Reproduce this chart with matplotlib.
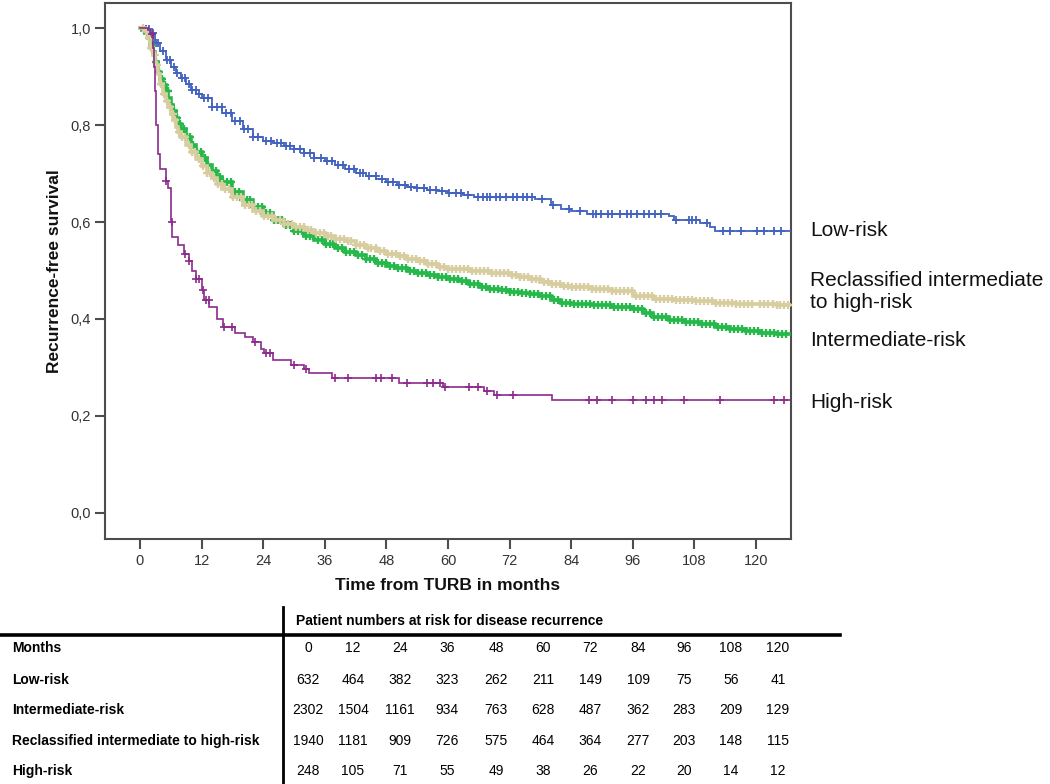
import numpy as np
import matplotlib
matplotlib.use("Agg")
import matplotlib.pyplot as plt
from matplotlib.lines import Line2D

# ---------------- data ----------------
low_t = [0, 1, 2, 3, 4, 5, 6, 7, 8, 9, 10, 11, 12, 14, 16, 18, 20, 22, 24, 26, 28, 30, 32, 34, 36, 38,
         40, 42, 44, 46, 48, 50, 52, 54, 56, 58, 60, 63, 65, 77, 80, 82, 84, 87, 103, 104, 109, 111, 112]
low_s = [1.0, 0.998, 0.99, 0.97, 0.952, 0.935, 0.92, 0.908, 0.897, 0.885, 0.873, 0.864, 0.855, 0.838,
         0.825, 0.808, 0.792, 0.776, 0.768, 0.764, 0.756, 0.75, 0.742, 0.733, 0.726, 0.718, 0.71, 0.702,
         0.695, 0.688, 0.682, 0.677, 0.673, 0.67, 0.667, 0.664, 0.66, 0.656, 0.651, 0.648, 0.636, 0.626,
         0.622, 0.617, 0.613, 0.605, 0.598, 0.59, 0.582]
low_cens = [1.2, 1.8, 2.5, 3.1, 3.6, 4.4, 5.2, 5.9, 6.6, 7.3, 8.1, 8.8, 9.5, 10.2, 10.9, 11.6, 12.4, 13.2,
            14.1, 15.0, 15.9, 16.8, 17.7, 18.5, 19.4, 20.2, 21.1, 22.0, 23.0, 24.5, 25.6, 26.7, 27.5, 28.4,
            29.3, 30.1, 31.2, 32.0, 33.1, 34.0, 35.2, 36.5, 37.4, 38.6, 39.5, 40.7, 41.6, 42.8, 43.5, 44.7,
            45.9, 47.1, 48.3, 49.2, 50.4, 51.6, 52.8, 54.0, 55.3, 56.5, 57.7, 58.9, 60.1, 61.5, 62.6, 63.8,
            65.9, 66.8, 67.5, 68.2, 69.4, 70.1, 71.3, 72.6, 73.5, 74.7, 75.4, 76.3, 78.4, 80.5, 83.5, 85.8,
            88.2, 88.9, 89.7, 91.2, 92.0, 93.5, 94.8, 95.6, 96.9, 98.2, 99.1, 100.3, 101.4, 104.5, 106.9,
            107.6, 108.3, 110.5, 113.5, 115.0, 117.0, 120.2, 121.5, 123.5, 124.8]

int_t = [0, 0.5, 1, 1.5, 2, 2.5, 3, 3.5, 4, 4.5, 5, 5.5, 6, 6.5, 7, 7.5, 8, 9, 10, 11, 12, 13, 14, 15, 16,
         18, 20, 22, 24, 26, 28, 30, 32, 34, 36, 38, 40, 42, 44, 46, 48, 50, 52, 54, 56, 58, 60, 62, 64,
         66, 68, 70, 72, 74, 76, 78, 80, 82, 84, 88, 92, 96, 98, 100, 103, 106, 109, 112, 115, 118, 121, 124]
int_s = [1.0, 0.997, 0.99, 0.98, 0.965, 0.95, 0.93, 0.91, 0.895, 0.882, 0.87, 0.855, 0.842, 0.83, 0.815,
         0.803, 0.792, 0.775, 0.76, 0.745, 0.733, 0.718, 0.705, 0.693, 0.682, 0.663, 0.646, 0.632, 0.618,
         0.605, 0.593, 0.582, 0.572, 0.563, 0.555, 0.547, 0.539, 0.531, 0.523, 0.516, 0.51, 0.505, 0.5,
         0.495, 0.491, 0.487, 0.483, 0.479, 0.472, 0.466, 0.462, 0.459, 0.456, 0.454, 0.451, 0.447, 0.44,
         0.434, 0.431, 0.428, 0.425, 0.421, 0.413, 0.405, 0.398, 0.394, 0.39, 0.384, 0.379, 0.375, 0.372, 0.37]
int_cens = [0.8, 1.3, 1.9, 2.4, 3.2, 3.8, 4.3, 4.9, 5.4, 6.1, 6.7, 7.2, 7.9, 8.5, 9.1, 9.8, 10.4, 11.2,
            11.9, 12.6, 13.3, 14.0, 14.8, 15.5, 16.2, 17.0, 17.7, 18.5, 19.2, 20.0, 20.8, 21.5, 22.3, 23.0,
            23.8, 24.6, 25.3, 26.1, 26.9, 27.6, 28.4, 29.2, 30.0, 30.7, 31.5, 32.3, 33.1, 33.8, 34.6, 35.4,
            36.2, 37.0, 37.7, 38.5, 39.3, 40.1, 40.9, 41.6, 42.4, 43.2, 44.0, 44.8, 45.5, 46.3, 47.1, 47.9,
            48.7, 49.4, 50.2, 51.0, 51.8, 52.6, 53.3, 54.1, 54.9, 55.7, 56.5, 57.2, 58.0, 58.8, 59.6, 60.4,
            61.1, 61.9, 62.7, 63.5, 64.3, 65.0, 65.8, 66.6, 67.4, 68.2, 68.9, 69.7, 70.5, 71.3, 72.1, 72.8,
            73.6, 74.4, 75.2, 76.0, 76.7, 77.5, 78.3, 79.1, 79.9, 80.6, 81.4, 82.2, 83.0, 83.8, 84.5, 85.3,
            86.1, 86.9, 87.7, 88.4, 89.2, 90.0, 90.8, 91.6, 92.3, 93.1, 93.9, 94.7, 95.5, 96.2, 97.0, 97.8,
            98.6, 99.4, 100.1, 100.9, 101.7, 102.5, 103.3, 104.0, 104.8, 105.6, 106.4, 107.2, 107.9, 108.7,
            109.5, 110.3, 111.1, 111.8, 112.6, 113.4, 114.2, 115.0, 115.7, 116.5, 117.3, 118.1, 118.9,
            119.6, 120.4, 121.2, 122.0, 122.8, 123.5, 124.3, 125.1, 125.9]

rec_t = [0, 1, 1.5, 2, 2.5, 3, 3.5, 4, 4.5, 5, 5.5, 6, 6.5, 7, 7.5, 8, 9, 10, 11, 12, 13, 14, 15, 16, 18,
         20, 22, 24, 26, 28, 30, 32, 34, 36, 38, 40, 42, 44, 46, 48, 50, 52, 54, 56, 58, 60, 64, 68, 72,
         74, 76, 78, 80, 82, 84, 88, 92, 96, 100, 104, 108, 112, 116, 120, 124]
rec_s = [1.0, 0.995, 0.98, 0.96, 0.945, 0.925, 0.905, 0.885, 0.865, 0.85, 0.837, 0.822, 0.81, 0.797,
         0.786, 0.776, 0.76, 0.744, 0.73, 0.716, 0.702, 0.69, 0.679, 0.669, 0.651, 0.636, 0.623, 0.613,
         0.604, 0.597, 0.59, 0.583, 0.578, 0.572, 0.566, 0.56, 0.553, 0.546, 0.54, 0.534, 0.529, 0.524,
         0.519, 0.513, 0.508, 0.503, 0.498, 0.494, 0.49, 0.486, 0.482, 0.477, 0.472, 0.468, 0.466, 0.462,
         0.457, 0.448, 0.442, 0.44, 0.437, 0.434, 0.431, 0.43, 0.428]
rec_cens = [0.6, 1.1, 1.7, 2.2, 2.9, 3.4, 4.1, 4.6, 5.2, 5.8, 6.4, 6.9, 7.6, 8.2, 8.8, 9.5, 10.1, 10.8,
            11.5, 12.3, 13.0, 13.7, 14.4, 15.2, 15.9, 16.6, 17.4, 18.1, 18.9, 19.6, 20.4, 21.2, 21.9, 22.7,
            23.4, 24.2, 25.0, 25.7, 26.5, 27.3, 28.0, 28.8, 29.6, 30.4, 31.1, 31.9, 32.7, 33.4, 34.2, 35.0,
            35.8, 36.6, 37.3, 38.1, 38.9, 39.7, 40.5, 41.2, 42.0, 42.8, 43.6, 44.4, 45.1, 45.9, 46.7, 47.5,
            48.3, 49.0, 49.8, 50.6, 51.4, 52.2, 52.9, 53.7, 54.5, 55.3, 56.1, 56.8, 57.6, 58.4, 59.2, 60.0,
            60.8, 61.5, 62.3, 63.1, 63.9, 64.7, 65.4, 66.2, 67.0, 67.8, 68.6, 69.3, 70.1, 70.9, 71.7, 72.5,
            73.2, 74.0, 74.8, 75.6, 76.4, 77.1, 77.9, 78.7, 79.5, 80.3, 81.0, 81.8, 82.6, 83.4, 84.2, 84.9,
            85.7, 86.5, 87.3, 88.1, 88.8, 89.6, 90.4, 91.2, 92.0, 92.7, 93.5, 94.3, 95.1, 95.9, 96.6, 97.4,
            98.2, 99.0, 99.8, 100.5, 101.3, 102.1, 102.9, 103.7, 104.4, 105.2, 106.0, 106.8, 107.6, 108.3,
            109.1, 109.9, 110.7, 111.5, 112.2, 113.0, 113.8, 114.6, 115.4, 116.1, 116.9, 117.7, 118.5,
            119.3, 120.8, 121.6, 122.4, 123.2, 124.0, 124.7, 125.5, 126.3]

high_t = [0, 1.5, 2, 2.5, 2.8, 3.0, 3.2, 3.5, 4, 5, 5.5, 6, 6.3, 7.5, 8.5, 9.5, 10.2, 11, 12, 12.5, 13.5,
          15, 16.2, 18.5, 20.5, 22, 23.5, 24.2, 26, 29.5, 32, 33, 37.5, 50.5, 59, 67, 69, 80.2]
high_s = [1.0, 0.996, 0.988, 0.96, 0.92, 0.87, 0.8, 0.74, 0.71, 0.685, 0.67, 0.6, 0.57, 0.552, 0.535,
          0.52, 0.5, 0.482, 0.46, 0.44, 0.425, 0.4, 0.383, 0.372, 0.362, 0.352, 0.338, 0.33, 0.316, 0.306,
          0.296, 0.288, 0.278, 0.268, 0.26, 0.252, 0.243, 0.233]
high_cens = [2.3, 5.0, 6.2, 8.8, 9.5, 11.0, 11.6, 12.2, 12.8, 13.4, 16.3, 18.0, 22.5, 24.6, 25.4, 30.0,
             32.3, 38.0, 40.5, 46.0, 47.0, 49.0, 52.0, 56.0, 57.0, 58.5, 59.5, 64.0, 65.8, 67.5, 69.5,
             72.6, 87.5, 89.0, 92.0, 96.0, 98.5, 100.2, 101.6, 106.0, 113.0, 123.5, 125.5]

t_end = 126.8

groups = ["Low-risk", "Intermediate-risk", "Reclassified intermediate to high-risk", "High-risk"]
right_labels = ["Low-risk", "Reclassified intermediate\nto high-risk", "Intermediate-risk", "High-risk"]
risk_months = [0, 12, 24, 36, 48, 60, 72, 84, 96, 108, 120]
risk_low = [632, 464, 382, 323, 262, 211, 149, 109, 75, 56, 41]
risk_int = [2302, 1504, 1161, 934, 763, 628, 487, 362, 283, 209, 129]
risk_rec = [1940, 1181, 909, 726, 575, 464, 364, 277, 203, 148, 115]
risk_high = [248, 105, 71, 55, 49, 38, 26, 22, 20, 14, 12]

# ---------------- figure ----------------
W, H = 1050, 784
fig = plt.figure(figsize=(W / 100, H / 100), dpi=100)
SANS = ["Liberation Sans", "DejaVu Sans"]


def fx(px):
    return px / W


def fy(py):
    return 1 - py / H


ax = fig.add_axes([fx(105), fy(539), fx(791) - fx(105), fy(3) - fy(539)])
ax.set_xlim(-6.8, 126.8)
ax.set_ylim(-0.054, 1.052)


def km(ax, t, s, cens, color, lw, ms, mew, z):
    tt = list(t) + [t_end]
    ss = list(s) + [s[-1]]
    ax.step(tt, ss, where="post", color=color, lw=lw, zorder=z, solid_joinstyle="miter")
    c = np.array(cens)
    idx = np.searchsorted(np.array(t), c, side="right") - 1
    cy = np.array(s)[idx]
    ax.plot(c, cy, ls="none", marker="+", ms=ms, mew=mew, color=color, zorder=z)


km(ax, low_t, low_s, low_cens, "#4262c0", 1.3, 5.5, 1.3, 3)
km(ax, int_t, int_s, int_cens, "#27b84c", 2.6, 6, 1.7, 4)
km(ax, rec_t, rec_s, rec_cens, "#d8cd9f", 2.6, 6, 1.7, 5)
km(ax, high_t, high_s, high_cens, "#8c2b8c", 1.2, 5.5, 1.2, 6)

spine_c = "#4d4d4d"
for sp in ax.spines.values():
    sp.set_color(spine_c)
    sp.set_linewidth(1.5)

ax.set_xticks(risk_months)
ax.set_xticklabels([str(m) for m in risk_months])
ax.set_yticks([0, 0.2, 0.4, 0.6, 0.8, 1.0])
ax.set_yticklabels(["0,0", "0,2", "0,4", "0,6", "0,8", "1,0"])
ax.tick_params(axis="both", direction="out", length=7, width=1.5, color=spine_c,
               labelcolor="#333333", labelsize=10.5)
ax.tick_params(axis="x", pad=4)
ax.tick_params(axis="y", pad=3)
for lab in ax.get_xticklabels() + ax.get_yticklabels():
    lab.set_family(SANS)

ax.set_xlabel("Time from TURB in months", family=SANS, fontweight="bold", fontsize=12.5,
              color="#111111")
ax.set_ylabel("Recurrence-free survival", family=SANS, fontweight="bold", fontsize=12.5,
              color="#111111")
ax.xaxis.set_label_coords((448 - 105) / 686, (539 - 578) / 536)
ax.yaxis.set_label_coords((62 - 105) / 686, 0.5)

# right-side group labels
label_y = [231, 291.5, 340, 402]
for lab, py in zip(right_labels, label_y):
    fig.text(fx(810), fy(py), lab, family=SANS, fontsize=15, va="center", ha="left",
             color="#111111", linespacing=1.25)

# ---------------- risk table ----------------
fig.add_artist(Line2D([fx(0), fx(840)], [fy(635), fy(635)], color="black", lw=2.6))
fig.add_artist(Line2D([fx(283), fx(283)], [fy(607), fy(784)], color="black", lw=2.0))
fig.text(fx(296), fy(621), "Patient numbers at risk for disease recurrence", family=SANS,
         fontweight="bold", fontsize=10, va="center", ha="left")

col_x = [308, 353, 400, 447, 496, 543, 590, 638, 684, 731, 778]
row_y = [648, 680, 710, 741, 771]
rows = [("Months", risk_months), (groups[0], risk_low), (groups[1], risk_int),
        (groups[2], risk_rec), (groups[3], risk_high)]
for (name, vals), py in zip(rows, row_y):
    fig.text(fx(12), fy(py), name, family=SANS, fontweight="bold", fontsize=10,
             va="center", ha="left")
    for v, px in zip(vals, col_x):
        fig.text(fx(px), fy(py), str(v), family=SANS, fontsize=10, va="center", ha="center")

fig.savefig("out.png", dpi=100)
